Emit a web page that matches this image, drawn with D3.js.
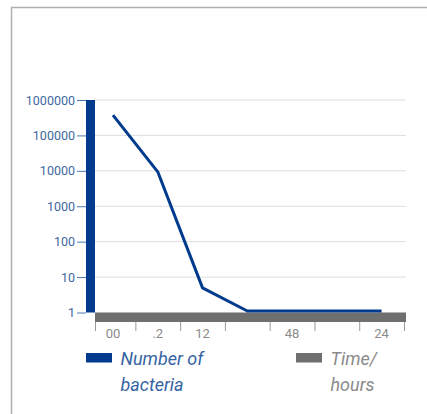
<!DOCTYPE html>
<html>
<head>
<meta charset="utf-8">
<script src="https://cdn.jsdelivr.net/npm/d3@7"></script>
<style>
  html, body { margin: 0; padding: 0; background: #fff; }
  svg { display: block; }
  .lbl { font-family: "Liberation Sans Narrow", "Roboto", sans-serif; }
</style>
</head>
<body>
<div id="chart"></div>
<script>
// data
const timeLabels = ["00", ".2", "12", "", "48", "", "24"];
const bacteria = [340000, 8500, 4.5, 1, 1, 1, 1];
const yTicks = [1, 10, 100, 1000, 10000, 100000, 1000000];
const legendItems = ["Number of|bacteria", "Time/|hours"];

const width = 427, height = 414;
const blue = "#003a8c", grey = "#6f6f6f";

const svg = d3.select("#chart").append("svg")
    .attr("width", width)
    .attr("height", height);

// frame
svg.append("path")
    .attr("d", `M11.5,${height} V7.5 H${width}`)
    .attr("fill", "none")
    .attr("stroke", "#b0b0b0")
    .attr("stroke-width", 1.5);

const x = d3.scaleBand().domain(d3.range(timeLabels.length)).range([90.6, 404]);
const y = d3.scaleLog().domain([1, 1000000]).range([312.5, 100]);

const plotLeft = 95, plotRight = 406;

// gridlines
svg.append("g").selectAll("line")
    .data(yTicks.slice(1))
    .join("line")
    .attr("x1", plotLeft).attr("x2", plotRight)
    .attr("y1", d => y(d)).attr("y2", d => y(d))
    .attr("stroke", "#dedede").attr("stroke-width", 1);

// y axis
const yAxis = svg.append("g")
    .attr("transform", "translate(86,0)")
    .call(d3.axisLeft(y).tickValues(yTicks).tickFormat(d3.format("d")).tickSize(9).tickPadding(2));
yAxis.select(".domain").remove();
yAxis.selectAll(".tick line").attr("stroke", "#4f78b0");
yAxis.selectAll("text")
    .attr("class", "lbl")
    .attr("fill", "#40689f")
    .style("font-size", "12.5px");

svg.append("rect")
    .attr("x", 86).attr("y", y(1000000))
    .attr("width", 9).attr("height", y(1) - y(1000000))
    .attr("fill", blue);

// x axis
const xAxisBar = svg.append("rect")
    .attr("x", plotLeft).attr("y", 312.5)
    .attr("width", plotRight - plotLeft).attr("height", 9.5)
    .attr("fill", grey);

const edges = d3.range(timeLabels.length + 1).map(i => i === 0 ? plotLeft : Math.min(x(0) + i * x.step(), plotRight));
svg.append("g").selectAll("line")
    .data(edges)
    .join("line")
    .attr("x1", d => d + 0.5).attr("x2", d => d + 0.5)
    .attr("y1", 322).attr("y2", 331)
    .attr("stroke", "#9a9a9a").attr("stroke-width", 1);

svg.append("g").selectAll("text")
    .data(timeLabels)
    .join("text")
    .attr("class", "lbl")
    .attr("x", (d, i) => x(i) + x.bandwidth() / 2)
    .attr("y", 338)
    .attr("text-anchor", "middle")
    .attr("fill", "#8a8a8a")
    .style("font-size", "13px")
    .text(d => d);

// line
const line = d3.line()
    .x((d, i) => x(i) + x.bandwidth() / 2)
    .y(d => y(d) - 1.5);

svg.append("path")
    .datum(bacteria)
    .attr("d", line)
    .attr("fill", "none")
    .attr("stroke", blue)
    .attr("stroke-width", 3)
    .attr("stroke-linejoin", "round");

// legend
const legendX = [86, 296];
const legendCol = [[blue, "#3563a3"], [grey, "#8a8a8a"]];
legendItems.forEach((txt, i) => {
    const lg = svg.append("g").attr("transform", `translate(${legendX[i]},353)`);
    lg.append("rect")
        .attr("width", 26).attr("height", 9.5)
        .attr("fill", legendCol[i][0]);
    const t = lg.append("text")
        .attr("class", "lbl")
        .attr("x", 34.5).attr("y", 12)
        .attr("fill", legendCol[i][1])
        .style("font-size", "18px")
        .style("font-style", "italic");
    txt.split("|").forEach((s, j) => {
        t.append("tspan").attr("x", 34.5).attr("dy", j === 0 ? 0 : 25.5).text(s);
    });
});
</script>
</body>
</html>
